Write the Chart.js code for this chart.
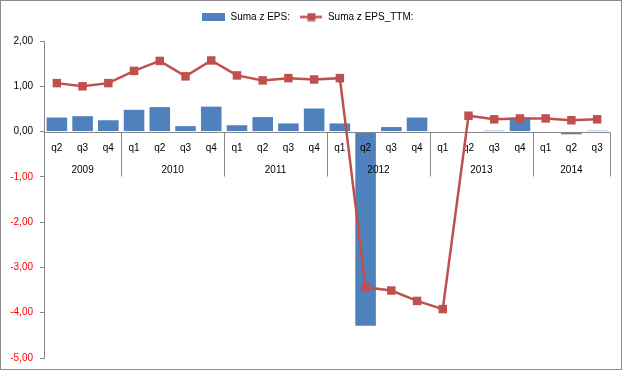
<!DOCTYPE html>
<html>
<head>
<meta charset="utf-8">
<script src="https://cdn.jsdelivr.net/npm/chart.js@4.4.0/dist/chart.umd.min.js"></script>
<style>
  html, body { margin: 0; padding: 0; background: #fff; }
  #wrap { width: 624px; height: 372px; position: relative; }
</style>
</head>
<body>
<div id="wrap"><canvas id="epsChart"></canvas></div>
<script>
// kwartały i lata
const quarters = ['q2','q3','q4','q1','q2','q3','q4','q1','q2','q3','q4','q1','q2','q3','q4','q1','q2','q3','q4','q1','q2','q3'];
const years = ['2009','2010','2011','2012','2013','2014'];
const yearSizes = [3, 4, 4, 4, 4, 3];

const eps = [0.31, 0.34, 0.25, 0.48, 0.54, 0.12, 0.55, 0.14, 0.32, 0.18, 0.51, 0.18, -4.29, 0.10, 0.31, 0, 0, 0.02, 0.31, 0, -0.06, 0.02];
const epsTtm = [1.07, 1.00, 1.07, 1.34, 1.56, 1.22, 1.57, 1.24, 1.13, 1.18, 1.15, 1.18, -3.44, -3.51, -3.74, -3.92, 0.35, 0.27, 0.29, 0.29, 0.25, 0.27];

const yTicks = [2, 1, 0, -1, -2, -3, -4, -5];

const BLUE = '#4F81BD';
const RED = '#C0504D';
const AXIS = '#868686';
const FONT = '"Liberation Sans", Arial, sans-serif';

function fmt(v) {
    return v.toFixed(2).replace('.', ',');
}

// ikonki legendy
function barIcon() {
    const c = document.createElement('canvas');
    c.width = 23; c.height = 8;
    const g = c.getContext('2d');
    g.fillStyle = BLUE;
    g.fillRect(0, 0, 23, 8);
    return c;
}
function lineIcon() {
    const c = document.createElement('canvas');
    c.width = 22; c.height = 9;
    const g = c.getContext('2d');
    g.strokeStyle = RED;
    g.lineWidth = 2.5;
    g.beginPath();
    g.moveTo(0, 4.5); g.lineTo(22, 4.5);
    g.stroke();
    g.fillStyle = RED;
    g.fillRect(7, 0.5, 8, 8);
    return c;
}
const icons = [barIcon(), lineIcon()];

const frame = {
    id: 'frame',
    afterInit(chart) {
        // więcej miejsca pod legendą
        const lg = chart.legend;
        const fit = lg.fit;
        lg.fit = function () {
            fit.call(this);
            this.height += 9;
        };
    },
    beforeDraw(chart) {
        const ctx = chart.ctx;
        ctx.save();
        ctx.strokeStyle = '#8c8c8c';
        ctx.lineWidth = 1;
        ctx.strokeRect(0.5, 0.5, 621, 369);
        ctx.restore();
    }
};

// os kategorii na zerze + etykiety dwupoziomowe
const catAxis = {
    id: 'catAxis',
    afterDatasetDraw(chart, args) {
        if (args.meta.type !== 'bar') return;
        const ctx = chart.ctx;
        const x = chart.scales.x;
        const y0 = Math.round(chart.scales.y.getPixelForValue(0)) + 0.5;
        const area = chart.chartArea;
        const half = (x.getPixelForValue(1) - x.getPixelForValue(0)) / 2;

        ctx.save();
        ctx.strokeStyle = AXIS;
        ctx.lineWidth = 1;
        ctx.beginPath();
        ctx.moveTo(area.left, y0);
        ctx.lineTo(area.right, y0);
        let idx = 0;
        yearSizes.forEach(n => {
            idx += n;
            const sx = Math.round(x.getPixelForValue(idx - 1) + half) + 0.5;
            ctx.moveTo(sx, y0);
            ctx.lineTo(sx, y0 + 44);
        });
        ctx.stroke();

        ctx.fillStyle = '#000';
        ctx.font = '10px ' + FONT;
        ctx.textAlign = 'center';
        ctx.textBaseline = 'middle';
        quarters.forEach((q, i) => {
            ctx.fillText(q, x.getPixelForValue(i), y0 + 16);
        });
        idx = 0;
        years.forEach((yr, k) => {
            const a = x.getPixelForValue(idx);
            const b = x.getPixelForValue(idx + yearSizes[k] - 1);
            ctx.fillText(yr, (a + b) / 2, y0 + 38);
            idx += yearSizes[k];
        });
        ctx.restore();
    }
};

new Chart(document.getElementById('epsChart'), {
    data: {
        labels: quarters,
        datasets: [{
            type: 'line',
            label: 'Suma z EPS_TTM:',
            data: epsTtm,
            borderColor: RED,
            backgroundColor: RED,
            borderWidth: 2.5,
            pointStyle: 'rect',
            pointRadius: 6,
            pointBorderWidth: 0,
            pointHoverRadius: 6,
            order: 0
        }, {
            type: 'bar',
            label: 'Suma z EPS:',
            data: eps,
            backgroundColor: BLUE,
            borderWidth: 0,
            barPercentage: 0.8,
            categoryPercentage: 1,
            order: 1
        }]
    },
    options: {
        responsive: true,
        maintainAspectRatio: false,
        animation: false,
        layout: { padding: { left: 6, right: 14, top: 2, bottom: 14 } },
        plugins: {
            tooltip: { enabled: false },
            legend: {
                position: 'top',
                labels: {
                    usePointStyle: true,
                    pointStyleWidth: 23,
                    padding: 10,
                    color: '#000',
                    font: { family: FONT, size: 10 },
                    generateLabels(chart) {
                        return [1, 0].map(i => ({
                            text: chart.data.datasets[i].label,
                            pointStyle: icons[i === 1 ? 0 : 1],
                            datasetIndex: i,
                            fillStyle: 'transparent',
                            strokeStyle: 'transparent',
                            lineWidth: 0
                        }));
                    }
                }
            }
        },
        scales: {
            x: {
                type: 'category',
                display: false,
                offset: true
            },
            y: {
                type: 'linear',
                min: yTicks[yTicks.length - 1],
                max: yTicks[0],
                afterFit(s) { s.width = 38; },
                afterBuildTicks(s) { s.ticks = yTicks.map(v => ({ value: v })); },
                ticks: {
                    padding: 7,
                    font: { family: FONT, size: 10 },
                    color: c => c.tick.value < 0 ? '#FF0000' : '#000',
                    callback: v => fmt(v)
                },
                grid: {
                    drawOnChartArea: false,
                    drawTicks: true,
                    tickLength: 4,
                    color: AXIS
                },
                border: { display: true, color: AXIS }
            }
        }
    },
    plugins: [frame, catAxis]
});
</script>
</body>
</html>
